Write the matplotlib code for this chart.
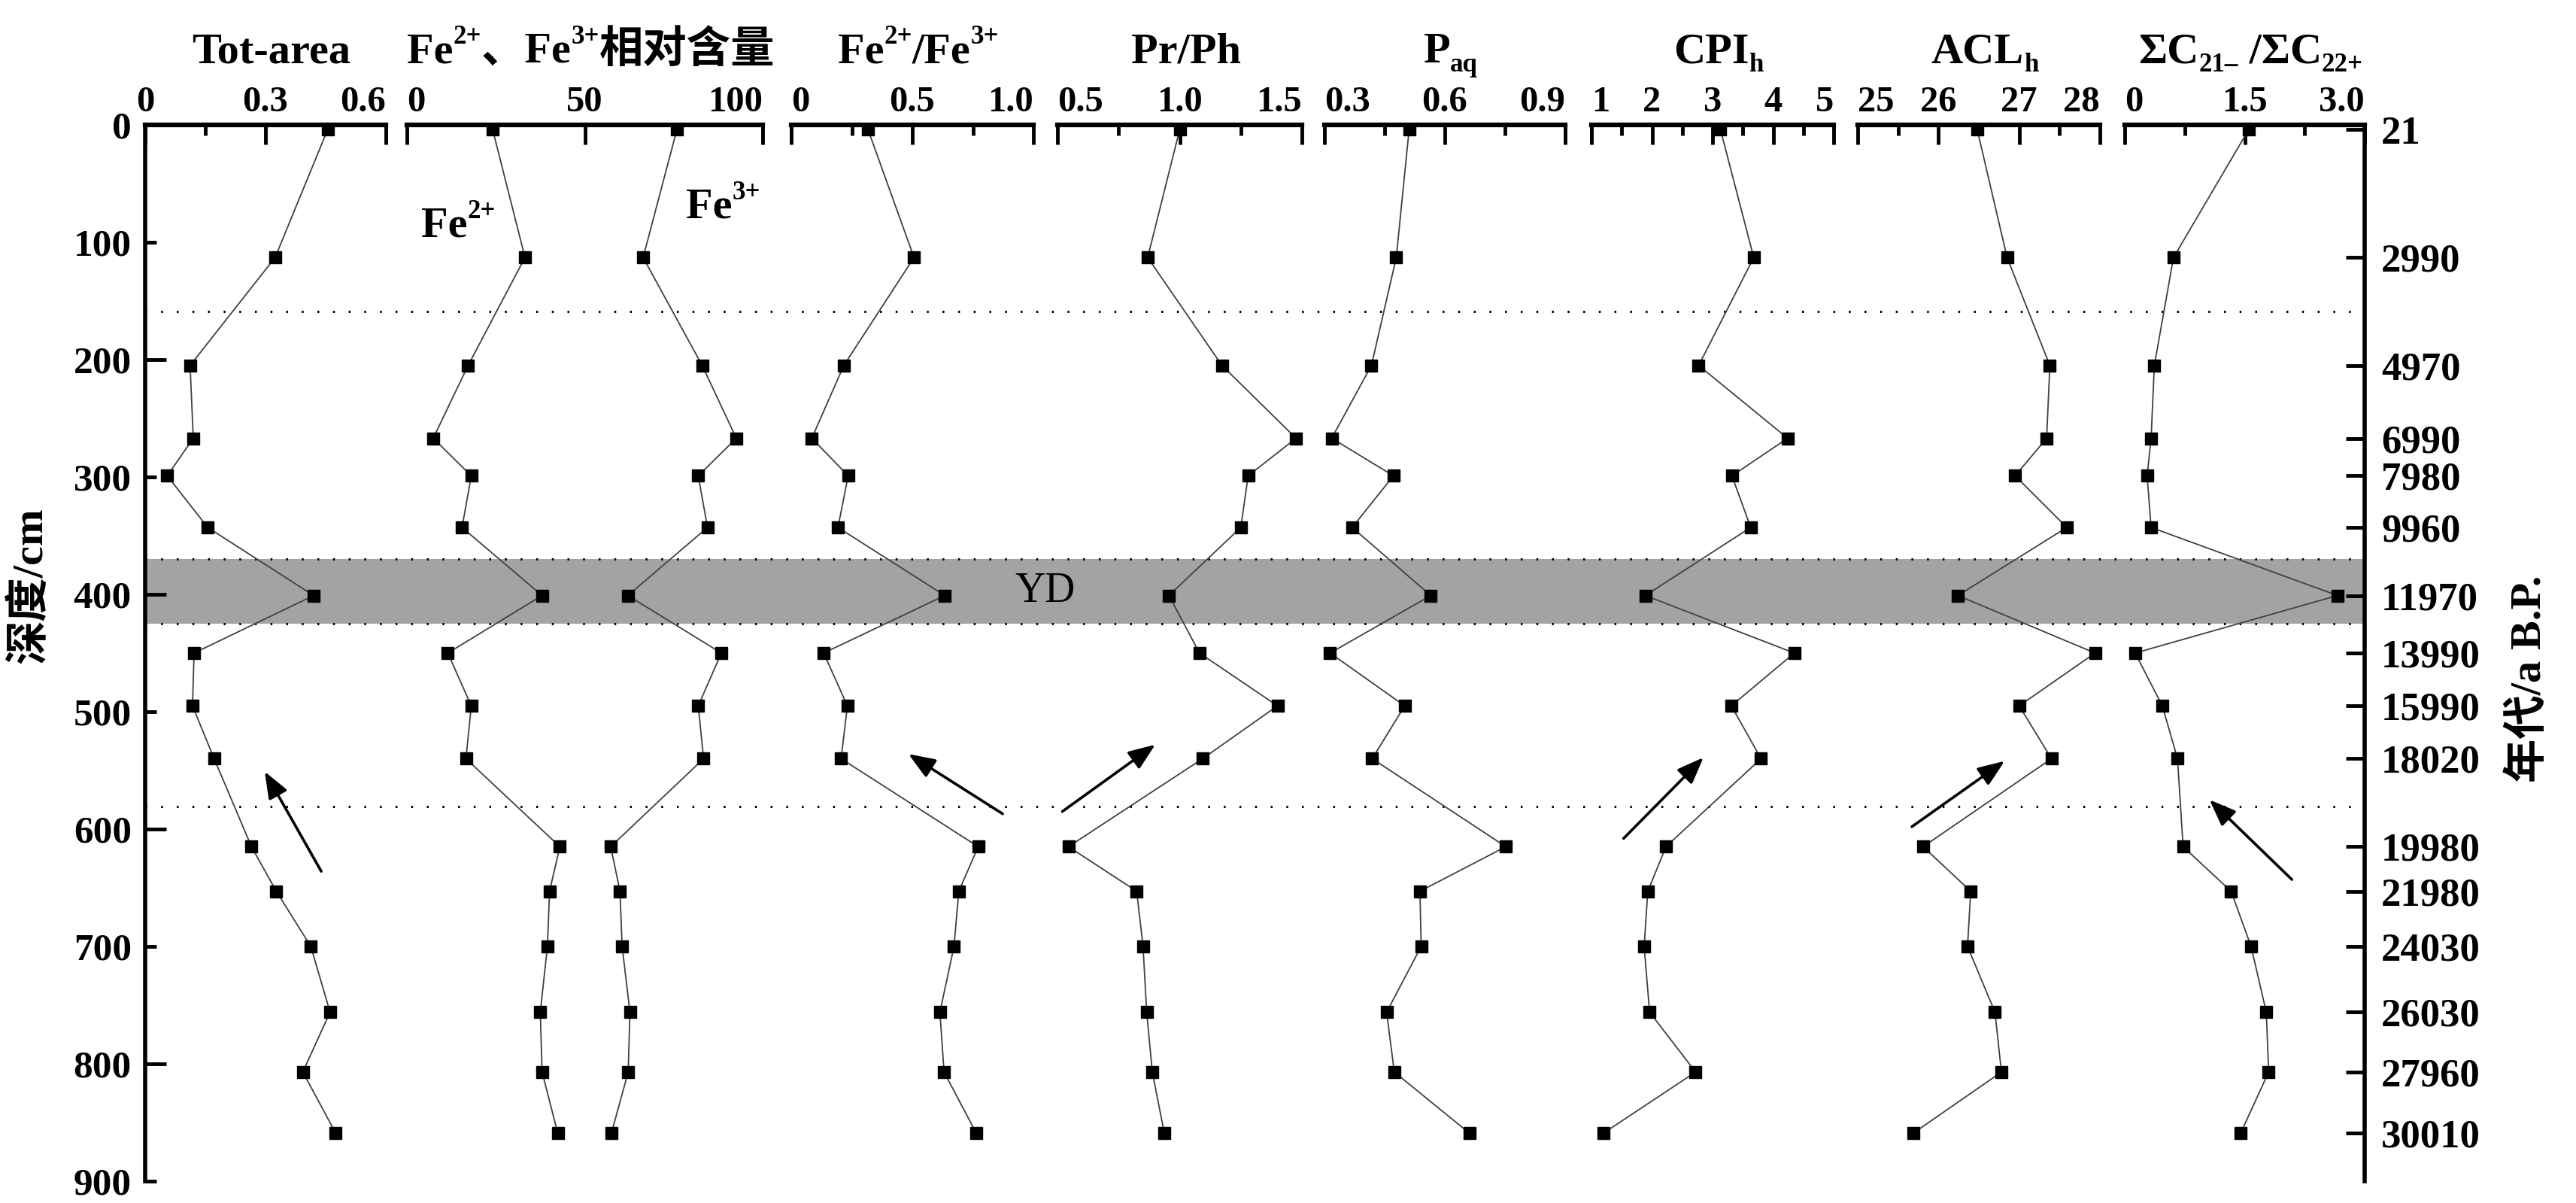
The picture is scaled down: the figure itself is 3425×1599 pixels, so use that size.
import matplotlib
matplotlib.use("Agg")
import matplotlib.pyplot as plt
from matplotlib.transforms import IdentityTransform

# depth of each sample (cm) and the age labels on the right axis
depth = [4, 113, 205, 267, 299, 343, 401, 450, 495, 540, 615, 653, 700, 756, 807, 859]
age_labels = ['21', '2990', '4970', '6990', '7980', '9960', '11970', '13990',
              '15990', '18020', '19980', '21980', '24030', '26030', '27960', '30010']

tot_area = [0.455, 0.324, 0.112, 0.120, 0.055, 0.156, 0.420, 0.122,
            0.118, 0.172, 0.265, 0.327, 0.413, 0.461, 0.393, 0.475]
fe2 = [24.1, 33.2, 17.2, 7.4, 18.1, 15.5, 38.0, 11.5,
       18.1, 16.6, 43.0, 40.1, 39.5, 37.5, 38.0, 42.4]
fe3 = [75.9, 66.4, 83.0, 92.6, 81.9, 84.5, 62.1, 88.4,
       81.9, 83.4, 57.3, 59.9, 60.5, 62.7, 62.2, 57.5]
fe_ratio = [0.317, 0.507, 0.217, 0.085, 0.235, 0.193, 0.634, 0.134,
            0.232, 0.206, 0.772, 0.692, 0.672, 0.614, 0.631, 0.764]
pr_ph = [1.00, 0.869, 1.173, 1.476, 1.28, 1.25, 0.956, 1.081,
         1.40, 1.094, 0.545, 0.824, 0.850, 0.865, 0.888, 0.937]
paq = [0.511, 0.479, 0.417, 0.318, 0.472, 0.369, 0.565, 0.314,
       0.500, 0.419, 0.752, 0.538, 0.541, 0.455, 0.474, 0.661]
cpi = [3.13, 3.68, 2.77, 4.24, 3.32, 3.63, 1.89, 4.35,
       3.31, 3.80, 2.23, 1.93, 1.87, 1.96, 2.72, 1.20]
acl = [26.48, 26.85, 27.38, 27.34, 26.95, 27.59, 26.24, 27.94,
       27.00, 27.40, 25.81, 26.40, 26.36, 26.70, 26.78, 25.69]
c21_c22 = [1.55, 0.61, 0.37, 0.33, 0.28, 0.33, 2.66, 0.13,
           0.47, 0.66, 0.73, 1.33, 1.58, 1.77, 1.80, 1.45]

# YD band and the dotted boundaries (depth, cm)
yd_band = (370, 425)
dotted_depths = [159, 370, 425, 581]

# trend arrows: (tail value, tail depth), (head value, head depth)
arrows = {
    0: ((0.439, 636), (0.298, 551)),
    2: ((0.873, 587), (0.484, 536)),
    3: ((0.52, 585), (0.90, 528)),
    5: ((1.53, 608), (2.85, 539)),
    6: ((25.67, 598), (26.82, 542)),
    7: ((2.09, 643), (1.06, 575)),
}

# panel: xlim, major ticks, labels, minor ticks
panel_ticks = [
    ((0, 0.6), [0, 0.3, 0.6], ['0', '0.3', '0.6'], [0.15, 0.45]),
    ((0, 100), [0, 50, 100], ['0', '50', '100'], [25, 75]),
    ((0, 1.0), [0, 0.5, 1.0], ['0', '0.5', '1.0'], [0.25, 0.75]),
    ((0.5, 1.5), [0.5, 1.0, 1.5], ['0.5', '1.0', '1.5'], [0.75, 1.25]),
    ((0.3, 0.9), [0.3, 0.6, 0.9], ['0.3', '0.6', '0.9'], [0.45, 0.75]),
    ((1, 5), [1, 2, 3, 4, 5], ['1', '2', '3', '4', '5'], [1.5, 2.5, 3.5, 4.5]),
    ((25, 28), [25, 26, 27, 28], ['25', '26', '27', '28'], [25.5, 26.5, 27.5]),
    ((0, 3.0), [0, 1.5, 3.0], ['0', '1.5', '3.0'], [0.75, 2.25]),
]
panel_series = [[tot_area], [fe2, fe3], [fe_ratio], [pr_ph], [paq], [cpi], [acl], [c21_c22]]

titles = [
    [('Tot-area', 'n')],
    [('Fe', 'n'), ('2+', 'sup'), ('、Fe', 'n'), ('3+', 'sup'), ('相对含量', 'n')],
    [('Fe', 'n'), ('2+', 'sup'), ('/Fe', 'n'), ('3+', 'sup')],
    [('Pr/Ph', 'n')],
    [('P', 'n'), ('aq', 'sub')],
    [('CPI', 'n'), ('h', 'sub')],
    [('ACL', 'n'), ('h', 'sub')],
    [('ΣC', 'n'), ('21–', 'sub'), (' /ΣC', 'n'), ('22+', 'sub')],
]

SERIF = ['Liberation Serif', 'Noto Sans CJK SC', 'DejaVu Serif']
plt.rcParams['font.family'] = SERIF
plt.rcParams['font.weight'] = 'bold'

W, H = 3425, 1599
TOP, BOT = 166, 1570
panel_px = [(193, 513), (541, 1014), (1052, 1374), (1406, 1731),
            (1761, 2081), (2116, 2438), (2470, 2792), (2825, 3144)]

fig = plt.figure(figsize=(W / 100, H / 100), dpi=100)


def px_axes(x0, x1):
    return fig.add_axes([x0 / W, 1 - BOT / H, (x1 - x0) / W, (BOT - TOP) / H])


def rich_text(x, y, parts, size, ha='center'):
    r = fig.canvas.get_renderer()
    em = size * fig.dpi / 72
    made = []
    for s, kind in parts:
        fs = size if kind == 'n' else size * 0.6
        t = fig.text(0, 0, s, fontsize=fs, fontweight='bold', family=SERIF,
                     transform=IdentityTransform(), ha='left', va='baseline')
        made.append((t, kind, t.get_window_extent(r).width))
    total = sum(m[2] for m in made)
    cx = x - total / 2 if ha == 'center' else x
    for t, kind, w in made:
        dy = {'n': 0, 'sup': 0.42 * em, 'sub': -0.2 * em}[kind]
        t.set_position((cx, y + dy))
        cx += w


# background: YD band and dotted lines across all panels
bg = px_axes(panel_px[0][0], panel_px[-1][1])
bg.set_ylim(900, 0)
bg.axis('off')
bg.axhspan(*yd_band, color='#a3a3a3', lw=0)
for d in dotted_depths:
    bg.axhline(d, color='k', lw=2.2, linestyle=(0, (0.8, 6)))

axes = []
for i, ((x0, x1), (xlim, major, labels, minor), series) in enumerate(
        zip(panel_px, panel_ticks, panel_series)):
    ax = px_axes(x0, x1)
    ax.patch.set_visible(False)
    ax.set_xlim(*xlim)
    ax.set_ylim(900, 0)
    for vals in series:
        ax.plot(vals, depth, '-', color='#404040', lw=1.3, marker='s', ms=11,
                mfc='k', mec='k', clip_on=False)
    for s in ['left', 'right', 'bottom']:
        ax.spines[s].set_visible(False)
    ax.spines['top'].set_linewidth(4.5)
    ax.xaxis.tick_top()
    ax.set_xticks(major)
    ax.set_xticklabels(labels)
    ax.set_xticks(minor, minor=True)
    ax.tick_params(axis='x', which='major', direction='in', length=19, width=3.5,
                   pad=6, labelsize=35)
    ax.tick_params(axis='x', which='minor', direction='in', length=10, width=3.5)
    tl = ax.get_xticklabels()
    if i > 0:
        tl[0].set_horizontalalignment('left')
    tl[-1].set_horizontalalignment('right')
    ax.set_yticks([])
    axes.append(ax)

# left depth axis
ax = axes[0]
ax.spines['left'].set_visible(True)
ax.spines['left'].set_linewidth(4)
ax.set_yticks([0, 200, 400, 600, 800])
ax.set_yticklabels(['0', '200', '400', '600', '800'])
ax.set_yticks([100, 300, 500, 700, 900], minor=True)
ax.set_yticklabels(['100', '300', '500', '700', '900'], minor=True)
ax.tick_params(axis='y', which='major', direction='in', length=20, width=3.5,
               pad=13, labelsize=37)
ax.tick_params(axis='y', which='minor', direction='in', length=11, width=3.5,
               pad=13, labelsize=37)

# right age axis
ax = axes[-1]
ax.spines['right'].set_visible(True)
ax.spines['right'].set_linewidth(4)
ax.yaxis.tick_right()
ax.set_yticks(depth)
ax.set_yticklabels(age_labels)
ax.tick_params(axis='y', which='major', direction='in', length=18, width=3.5,
               pad=16, labelsize=38)

for i, (tail, head) in arrows.items():
    axes[i].annotate('', xy=head, xytext=tail,
                     arrowprops=dict(arrowstyle='-|>,head_length=0.9,head_width=0.35',
                                     mutation_scale=24, lw=2.6, color='k',
                                     shrinkA=0, shrinkB=0))

# titles
for ax, parts in zip(axes, titles):
    b = ax.get_position()
    rich_text((b.x0 + b.x1) / 2 * W + 8, H - 83, parts, 42)

# Fe2+ / Fe3+ labels inside the second panel
x, y = axes[1].transData.transform((4, 95))
rich_text(x, y, [('Fe', 'n'), ('2+', 'sup')], 42, ha='left')
x, y = axes[1].transData.transform((78.4, 79))
rich_text(x, y, [('Fe', 'n'), ('3+', 'sup')], 42, ha='left')

# YD label in the gap between panels 3 and 4
b3, b4 = axes[2].get_position(), axes[3].get_position()
yd_y = axes[2].transData.transform((0, sum(yd_band) / 2))[1] / H
fig.text((b3.x1 + b4.x0) / 2, yd_y, 'YD', fontsize=40, fontweight='normal',
         ha='center', va='center')

fig.text(40 / W, 1 - 778 / H, '深度/cm', rotation=90, fontsize=42,
         ha='center', va='center')
fig.text(3362 / W, 1 - 902 / H, '年代/a B.P.', rotation=90, fontsize=42,
         ha='center', va='center')

fig.savefig('out.png', dpi=100)
